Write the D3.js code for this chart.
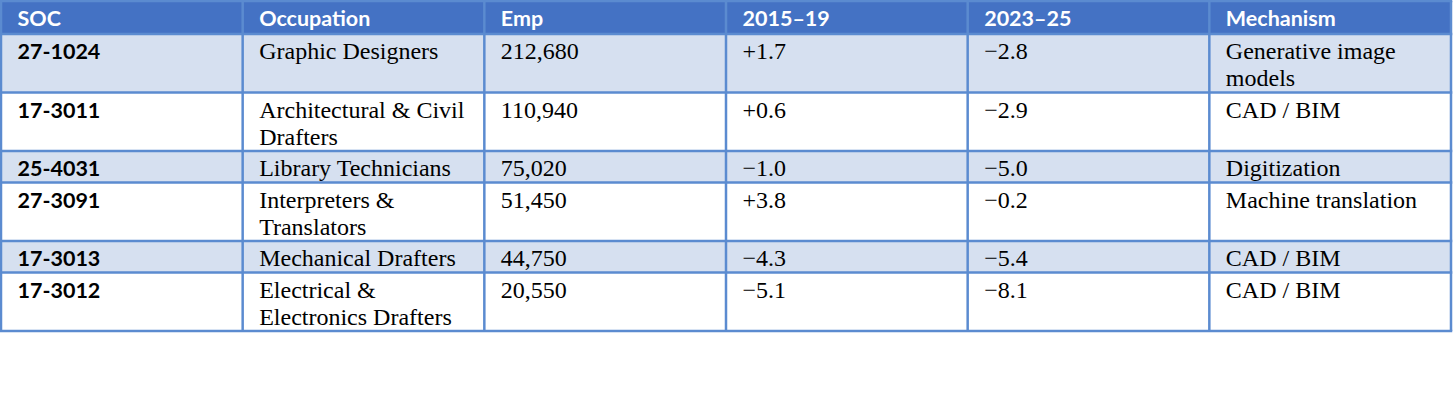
<!DOCTYPE html>
<html>
<head>
<meta charset="utf-8">
<script src="https://cdn.jsdelivr.net/npm/d3@7"></script>
<style>
  html, body { margin: 0; padding: 0; background: #fff; }
  svg { display: block; }
</style>
</head>
<body>
<div class="wrapper-table-d3"></div>
<script>
// table content
const columns = ["SOC", "Occupation", "Emp", "2015\u201319", "2023\u201325", "Mechanism"];
const soc = ["27-1024", "17-3011", "25-4031", "27-3091", "17-3013", "17-3012"];
const occupation = ["Graphic Designers", "Architectural & Civil Drafters", "Library Technicians",
                    "Interpreters & Translators", "Mechanical Drafters", "Electrical & Electronics Drafters"];
const emp = ["212,680", "110,940", "75,020", "51,450", "44,750", "20,550"];
const chg1519 = ["+1.7", "+0.6", "\u22121.0", "+3.8", "\u22124.3", "\u22125.1"];
const chg2325 = ["\u22122.8", "\u22122.9", "\u22125.0", "\u22120.2", "\u22125.4", "\u22128.1"];
const mechanism = ["Generative image models", "CAD / BIM", "Digitization", "Machine translation", "CAD / BIM", "CAD / BIM"];

const width = 1456, height = 406;
const tableLeft = 1, tableRight = 1451, tableTop = 1;
const pad = 16.5;
const headH = 33, lineH = 27, rowBase = 31.5;
const headerFill = "#4472c4", bandFill = "#d6e0f0", borderCol = "#5b8bd0";
const serif = "'Liberation Serif', 'Times New Roman', serif";
const sans = "Lato, 'Open Sans', sans-serif";

const svg = d3.select(".wrapper-table-d3")
  .append("svg")
  .attr("width", width)
  .attr("height", height)
  .attr("viewBox", [0, 0, width, height]);

const x = d3.scaleBand()
  .domain(columns)
  .range([tableLeft, tableRight]);

const rows = soc.map((s, i) => [s, occupation[i], emp[i], chg1519[i], chg2325[i], mechanism[i]]);

// measure + wrap text into lines that fit the cell
const measure = svg.append("text").attr("font-family", serif).attr("font-size", 24);
const maxW = x.bandwidth() - pad * 2;
function wrap(str, bold) {
  measure.attr("font-family", bold ? sans : serif).attr("font-weight", bold ? 700 : 400)
         .attr("font-size", bold ? 21.5 : 24);
  const words = str.split(" ");
  const lines = [];
  let cur = "";
  words.forEach(w => {
    const test = cur ? cur + " " + w : w;
    measure.text(test);
    if (measure.node().getComputedTextLength() > maxW && cur) {
      lines.push(cur);
      cur = w;
    } else cur = test;
  });
  lines.push(cur);
  return lines;
}
const wrapped = rows.map(r => r.map((c, j) => wrap(c, j === 0)));
measure.remove();

// row positions
const rowHeights = wrapped.map(r => rowBase + (d3.max(r, c => c.length) - 1) * lineH);
const rowTops = [];
let yy = tableTop + headH;
rowHeights.forEach(h => { rowTops.push(yy); yy += h; });
const tableBottom = yy;

// header
svg.append("rect")
  .attr("x", tableLeft).attr("y", tableTop)
  .attr("width", tableRight - tableLeft).attr("height", headH)
  .attr("fill", headerFill);

svg.append("g").selectAll("text")
  .data(columns)
  .join("text")
  .attr("x", d => x(d) + pad)
  .attr("y", tableTop + 25)
  .attr("font-family", sans)
  .attr("font-weight", 700)
  .attr("font-size", 21.5)
  .attr("fill", "#fff")
  .text(d => d);

// banded rows
svg.append("g").selectAll("rect")
  .data(rowTops)
  .join("rect")
  .attr("x", tableLeft)
  .attr("y", d => d)
  .attr("width", tableRight - tableLeft)
  .attr("height", (d, i) => rowHeights[i])
  .attr("fill", (d, i) => i % 2 === 0 ? bandFill : "#fff");

// cell text
const body = svg.append("g");
wrapped.forEach((r, i) => {
  r.forEach((lines, j) => {
    const t = body.append("text")
      .attr("x", x(columns[j]) + pad)
      .attr("y", rowTops[i] + 25)
      .attr("font-family", j === 0 ? sans : serif)
      .attr("font-weight", j === 0 ? 700 : 400)
      .attr("font-size", j === 0 ? 21.5 : 24)
      .attr("fill", "#000");
    lines.forEach((ln, k) => {
      t.append("tspan")
        .attr("x", x(columns[j]) + pad)
        .attr("dy", k === 0 ? 0 : lineH)
        .text(ln);
    });
  });
});

// grid lines
const grid = svg.append("g")
  .attr("stroke", borderCol)
  .attr("stroke-width", 2.5);
const vx = columns.map(c => x(c)).concat([tableRight]);
grid.selectAll("line.v")
  .data(vx)
  .join("line")
  .attr("class", "v")
  .attr("x1", d => d).attr("x2", d => d)
  .attr("y1", tableTop).attr("y2", tableBottom);
const hy = [tableTop, tableTop + headH].concat(rowTops.slice(1)).concat([tableBottom]);
grid.selectAll("line.h")
  .data(hy)
  .join("line")
  .attr("class", "h")
  .attr("x1", tableLeft - 1.25).attr("x2", tableRight + 1.25)
  .attr("y1", d => d).attr("y2", d => d);
</script>
</body>
</html>
